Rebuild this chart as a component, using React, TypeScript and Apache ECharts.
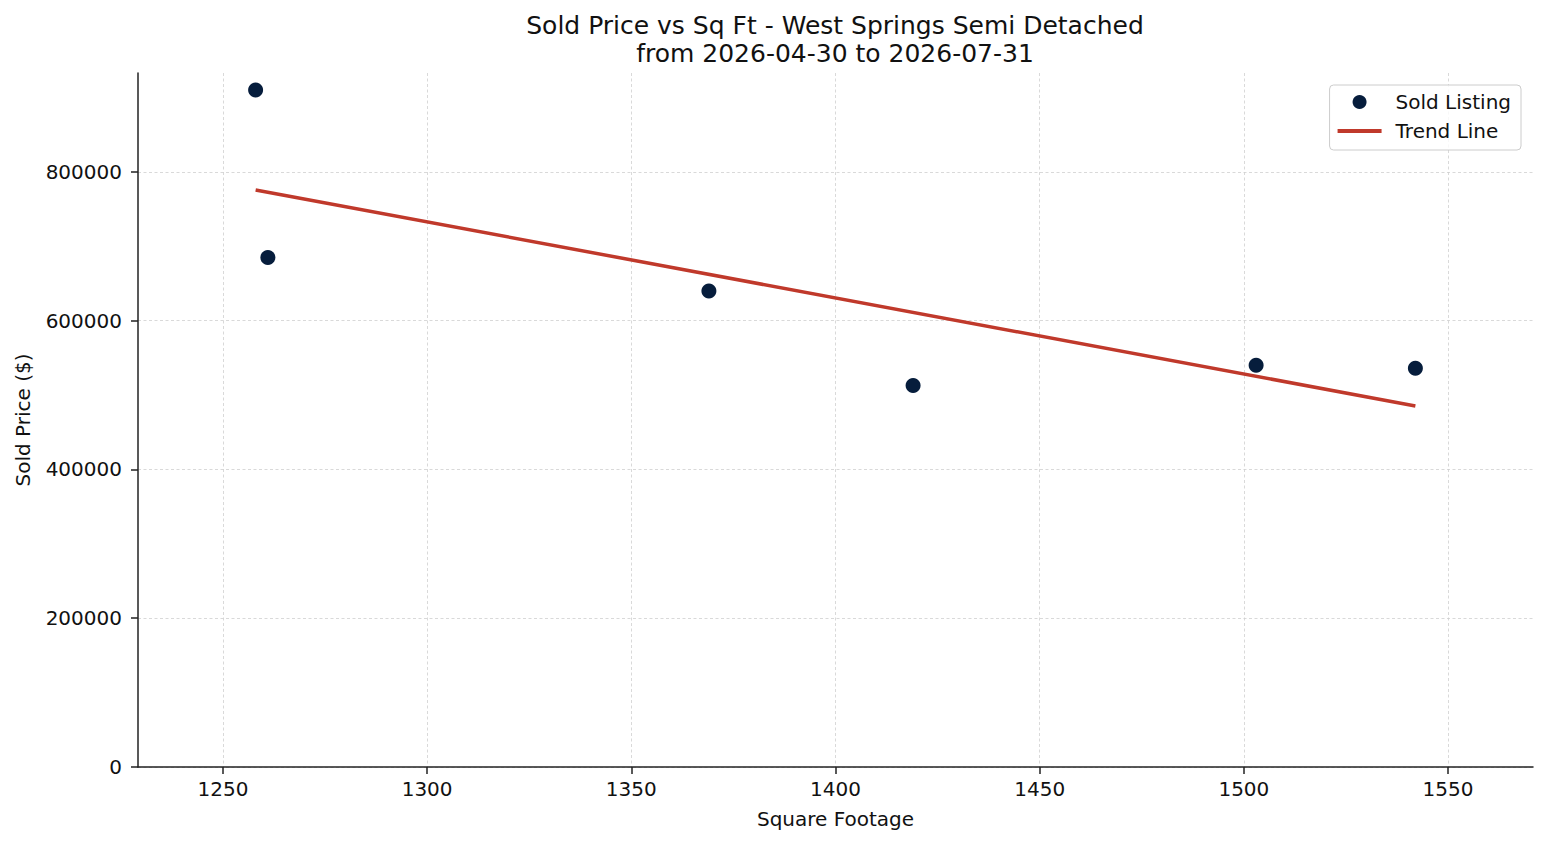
import { useEffect, useRef } from 'react';
import * as echarts from 'echarts';

// values
const sqFt = [1258, 1261, 1369, 1419, 1503, 1542];
const soldPrice = [910000, 685000, 640000, 513000, 540000, 536000];
const trendSqFt = [1258, 1542];
const trendPrice = [775800, 485400];
const xTicks = [1250, 1300, 1350, 1400, 1450, 1500, 1550];
const yTicks = [0, 200000, 400000, 600000, 800000];
const legendNames = ['Sold Listing', 'Trend Line'];

const FONT = 'DejaVu Sans';
const INK = '#111111';
const SPINE = '#222222';
const GRID = '#cfcfcf';
const POINT = '#061d3c';
const TREND = '#c0392b';

export default function App() {
  const chartRef = useRef<HTMLDivElement>(null);

  useEffect(() => {
    if (!chartRef.current) return;
    const chart = echarts.init(chartRef.current, undefined, { renderer: 'svg' });

    const option: echarts.EChartsOption = {
      animation: false,
      backgroundColor: '#ffffff',
      textStyle: { fontFamily: FONT },
      title: {
        text: 'Sold Price vs Sq Ft - West Springs Semi Detached\nfrom 2026-04-30 to 2026-07-31',
        left: 830,
        top: 6,
        textAlign: 'center',
        textStyle: {
          fontFamily: FONT,
          fontSize: 25,
          lineHeight: 28,
          fontWeight: 'normal',
          color: INK,
        },
      },
      legend: {
        orient: 'vertical',
        right: 26,
        top: 85,
        data: [
          { name: legendNames[0], icon: 'circle' },
          { name: legendNames[1], icon: 'path://M0,0M0,14M0,5L44,5L44,9L0,9Z' },
        ],
        itemWidth: 44,
        itemHeight: 14,
        itemGap: 7,
        padding: [6, 10, 8, 8],
        backgroundColor: 'rgba(255,255,255,0.8)',
        borderColor: '#cccccc',
        borderWidth: 1,
        borderRadius: 4,
        selectedMode: false,
        itemStyle: { borderWidth: 0, opacity: 1 },
        textStyle: {
          fontFamily: FONT,
          fontSize: 20,
          lineHeight: 22,
          color: INK,
          padding: [0, 0, 0, 9],
        },
      },
      grid: {
        left: 138,
        right: 14,
        top: 73,
        bottom: 78,
      },
      xAxis: {
        type: 'value',
        min: 1229.2,
        max: 1570.8,
        name: 'Square Footage',
        nameLocation: 'middle',
        nameGap: 42,
        nameTextStyle: { fontFamily: FONT, fontSize: 20, color: INK },
        axisLine: { show: true, onZero: false, lineStyle: { color: SPINE, width: 1.5 } },
        axisTick: {
          show: true,
          length: 7,
          customValues: xTicks,
          lineStyle: { color: SPINE, width: 1.5 },
        },
        axisLabel: {
          customValues: xTicks,
          fontFamily: FONT,
          fontSize: 20,
          color: INK,
          margin: 12,
          formatter: (v: number) => String(v),
        },
        splitLine: { show: true, lineStyle: { color: GRID, width: 0.8, type: [3, 2.5] } },
      },
      yAxis: {
        type: 'value',
        min: 0,
        max: 933000,
        name: 'Sold Price ($)',
        nameLocation: 'middle',
        nameGap: 105,
        nameTextStyle: { fontFamily: FONT, fontSize: 20, color: INK },
        axisLine: { show: true, onZero: false, lineStyle: { color: SPINE, width: 1.5 } },
        axisTick: {
          show: true,
          length: 7,
          customValues: yTicks,
          lineStyle: { color: SPINE, width: 1.5 },
        },
        axisLabel: {
          customValues: yTicks,
          fontFamily: FONT,
          fontSize: 20,
          color: INK,
          margin: 16,
          formatter: (v: number) => String(v),
        },
        splitLine: { show: true, lineStyle: { color: GRID, width: 0.8, type: [3, 2.5] } },
      },
      series: [
        {
          name: legendNames[0],
          type: 'scatter',
          data: sqFt.map((x, i) => [x, soldPrice[i]]),
          symbolSize: 15,
          itemStyle: { color: POINT, opacity: 1 },
          z: 2,
        },
        {
          name: legendNames[1],
          type: 'line',
          data: trendSqFt.map((x, i) => [x, trendPrice[i]]),
          symbol: 'none',
          showSymbol: false,
          lineStyle: { color: TREND, width: 3.5 },
          itemStyle: { color: TREND },
          z: 3,
        },
      ],
    };

    chart.setOption(option);

    return () => {
      chart.dispose();
    };
  }, []);

  return (
    <div
      ref={chartRef}
      style={{ position: 'absolute', left: 0, top: 0, width: '1547px', height: '845px' }}
    />
  );
}
